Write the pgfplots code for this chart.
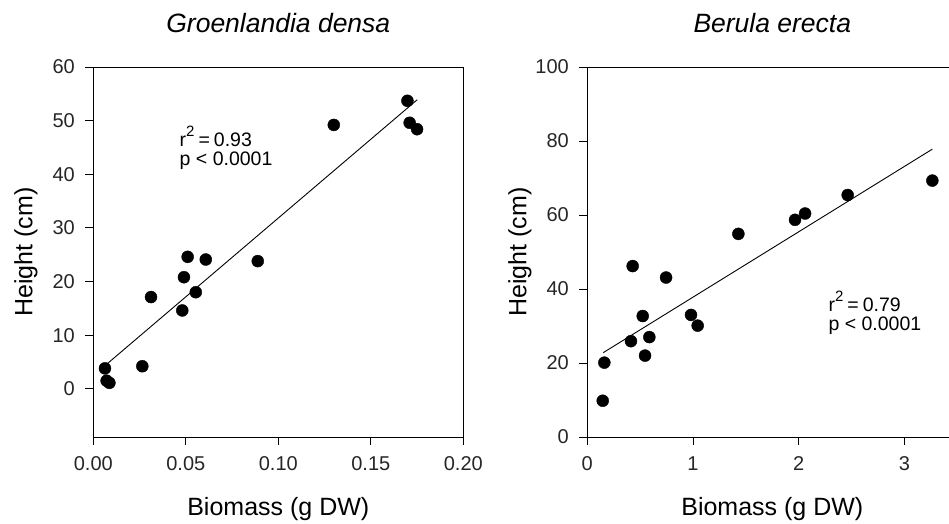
\documentclass[border=0pt]{standalone}
\usepackage{pgfplots}
\pgfplotsset{compat=1.18}
\usepackage{fontspec}
\setmainfont{Liberation Sans}

\newcommand{\tickfont}{\fontsize{20}{20}\selectfont}
\newcommand{\labfont}{\fontsize{25}{25}\selectfont}
\newcommand{\notefont}{\fontsize{19.5}{19.5}\selectfont}
\newcommand{\rsq}{r\raisebox{10.5pt}{\fontsize{15}{15}\selectfont 2}\hspace{4pt}=\hspace{4pt}}

\pgfplotsset{
  panel/.style={
    scale only axis, width=370pt, height=370pt,
    axis line style={black, line width=0.9pt},
    tick style={black, line width=0.9pt},
    tick align=outside, major tick length=8pt,
    tick pos=left,
    minor tick num=0,
    ticklabel style={font=\tickfont, text=black!85},
    /pgf/number format/assume math mode=true,
    every axis x label/.style={at={([yshift=-78pt]axis description cs:0.5,0)}, anchor=base, font=\labfont},
    every axis y label/.style={at={([xshift=-61pt]axis description cs:0,0.5)}, rotate=90, anchor=base, font=\labfont},
    every axis title/.style={at={([yshift=35pt]axis description cs:0.5,1)}, anchor=base,
      font=\fontsize{26.5}{26.5}\selectfont\itshape},
    xticklabel style={yshift=-8pt},
    yticklabel style={xshift=-7pt},
    ylabel={Height (cm)},
    xlabel={Biomass (g DW)},
  },
  dots/.style={only marks, mark=*, mark size=6pt, mark options={fill=black, draw=black}},
  fit/.style={black, line width=0.9pt, no marks},
}

\begin{document}
\begin{tikzpicture}
% Groenlandia densa
\begin{axis}[panel,
    title={Groenlandia densa},
    xmin=0, xmax=0.2, ymin=-9, ymax=60,
    xtick={0,0.05,0.1,0.15,0.2},
    ytick={0,10,...,60},
    xticklabel style={/pgf/number format/fixed, /pgf/number format/fixed zerofill, /pgf/number format/precision=2},
]
\addplot[fit] coordinates {(0.0063,4.3) (0.1751,53.9)};
\addplot[dots] coordinates {
    (0.0063,3.8) (0.0072,1.5) (0.0087,1.1) (0.0265,4.2) (0.0312,17.1)
    (0.0481,14.6) (0.0490,20.8) (0.0510,24.6) (0.0554,18.0) (0.0608,24.1)
    (0.0889,23.8) (0.1300,49.2) (0.1698,53.7) (0.1710,49.6) (0.1750,48.4)
};
\node[anchor=base west, font=\notefont, inner sep=0pt] at (axis cs:0.0466,45.1) {\rsq 0.93};
\node[anchor=base west, font=\notefont, inner sep=0pt] at (axis cs:0.0466,41.7) {p < 0.0001};
\end{axis}

% Berula erecta
\begin{axis}[panel, at={(494pt,0pt)}, anchor=south west,
    title={Berula erecta},
    xmin=0, xmax=3.5, ymin=0, ymax=100,
    xtick={0,1,2,3},
    ytick={0,20,...,100},
]
\addplot[fit] coordinates {(0.151,22.8) (3.264,77.8)};
\addplot[dots] coordinates {
    (0.146,9.8) (0.161,20.1) (0.413,25.9) (0.429,46.2) (0.524,32.7)
    (0.546,22.0) (0.587,27.0) (0.745,43.1) (0.981,33.0) (1.044,30.1)
    (1.429,54.9) (1.965,58.7) (2.060,60.4) (2.463,65.4) (3.264,69.3)
};
\node[anchor=base west, font=\notefont, inner sep=0pt] at (axis cs:2.28,33.9) {\rsq 0.79};
\node[anchor=base west, font=\notefont, inner sep=0pt] at (axis cs:2.28,28.9) {p < 0.0001};
\end{axis}

\pgfresetboundingbox
\useasboundingbox (-93.3pt,-86pt) rectangle (855.7pt,437pt);
\end{tikzpicture}
\end{document}
